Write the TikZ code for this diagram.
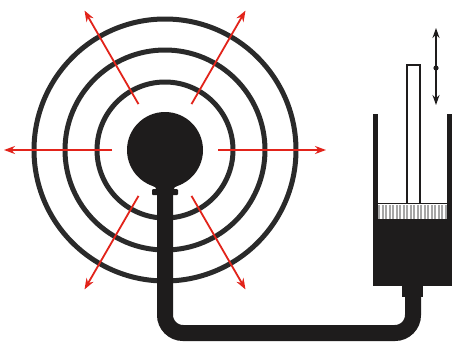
\documentclass[tikz,border=0pt]{standalone}
\usetikzlibrary{arrows.meta,calc}
\definecolor{ink}{HTML}{1E1C1C}
\definecolor{ring}{HTML}{2A2A2A}
\definecolor{wave}{HTML}{E2231A}
\begin{document}
\begin{tikzpicture}[x=1pt,y=-1pt,
  ringline/.style={draw=ring,line width=5pt},
  wavearrow/.style={draw=wave,line width=1.8pt,-{Stealth[length=11pt,width=8pt]}},
  tube/.style={draw=ink,line width=16pt,rounded corners=18pt},
  wall/.style={draw=ink,line width=5pt}]
\useasboundingbox (0,0) rectangle (453,343);
\fill[white] (0,0) rectangle (453,343);

% concentric wave fronts around the source
\coordinate (c) at (165,150);
\foreach \r in {68,100,131} \draw[ringline] (c) circle[radius=\r];

% radiating arrows
\foreach \a in {0,60,120,180,240,300}
  \draw[wavearrow] ($(c)+(\a:53)$) -- ($(c)+(\a:161)$);

% connecting tube from the bulb to the cylinder
\coordinate (t0) at (165,192);
\coordinate (t1) at (165,333);
\coordinate (t2) at (413,333);
\coordinate (t3) at (413,292);
\draw[tube] (t0) -- (t1) -- (t2) -- (t3);

% pulsating bulb with its neck and collar
\fill[ink] (c) circle[radius=38];
\fill[ink] (144,180) to[out=-65,in=90] (157,191) -- (173,191) to[out=90,in=-115] (186,180) -- cycle;
\fill[ink,rounded corners=1pt] (152,189) rectangle (178,195);

% cylinder: liquid, piston and walls
\fill[ink] (373,219) rectangle (452,285);
\fill[gray!70] (378,205) rectangle (447,219);
\foreach \x in {381,384.5,...,445} \draw[white,line width=1.1pt] (\x,205) -- (\x,219);
\draw[ink,line width=1.5pt] (378,203.5) -- (447,203.5);
\draw[ink,line width=2pt,fill=white] (407,203) -- (407,65) -- (420,65) -- (420,203);
\draw[wall] (375.5,114) -- (375.5,283) -- (449.5,283) -- (449.5,114);
\fill[ink] (402,283) rectangle (423,297);

% piston motion indicator
\coordinate (m1) at (436,28);
\coordinate (m2) at (436,105);
\draw[ink,line width=1.5pt,{Stealth[length=10pt,width=7pt]}-{Stealth[length=10pt,width=7pt]}] (m1) -- (m2);
\fill[ink] (436,68) circle[radius=2.6];
\end{tikzpicture}
\end{document}
